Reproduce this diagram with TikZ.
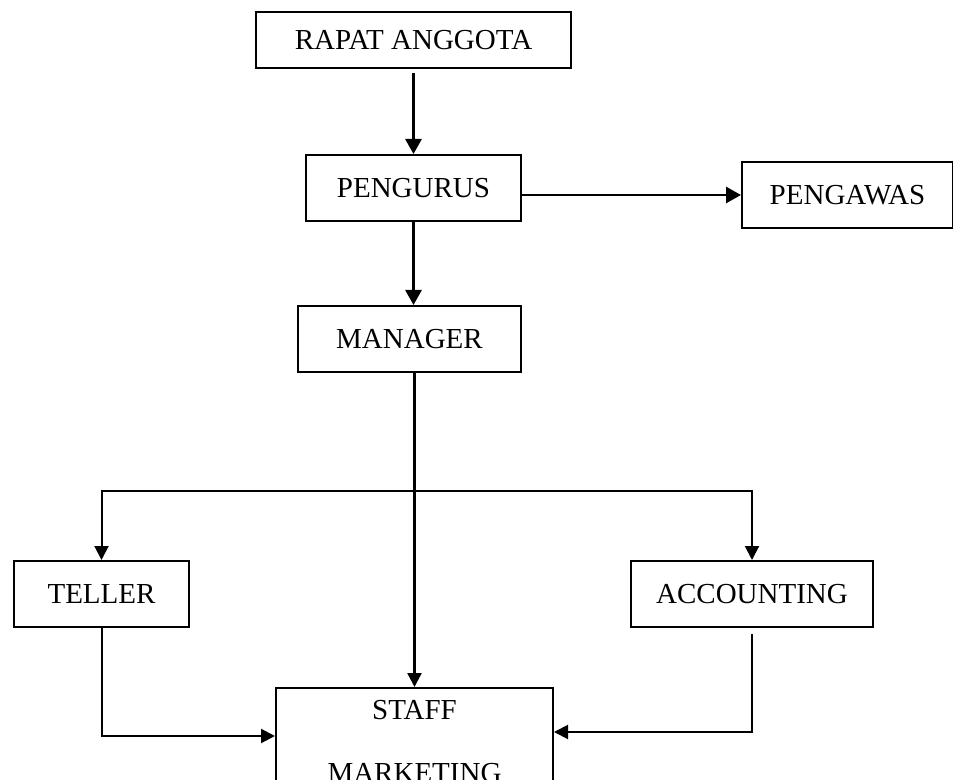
\documentclass[tikz,border=0pt]{standalone}
\usepackage{fontspec}
\setmainfont{Liberation Serif}
\usetikzlibrary{arrows.meta,positioning}

\begin{document}
\begin{tikzpicture}[
    x=0.5pt, y=-0.5pt,
    every node/.style={font=\fontsize{14.5}{17}\selectfont},
    box/.style={rectangle, draw, line width=1pt, minimum height=33pt, text centered, fill=white, inner sep=2pt},
    arrow/.style={-{Triangle[length=7.5pt,width=8pt]}, line width=1.4pt},
    thinarrow/.style={-{Triangle[length=7pt,width=7pt]}, line width=1pt}
]
\useasboundingbox (0,0) rectangle (953,780);
\clip (0,0) rectangle (953,780);

% Nodos
\node[box, minimum width=157.5pt, minimum height=28pt] (rapat) at (413.5,40) {RAPAT ANGGOTA};
\node[box, minimum width=107.5pt, below=42.5pt of rapat] (pengurus) {PENGURUS};
\node[box, minimum width=105.5pt, right=109.5pt of pengurus, yshift=-3.5pt] (pengawas) {PENGAWAS};
\node[box, minimum width=111.5pt, below=41.5pt of pengurus, xshift=-2pt] (manager) {MANAGER};
\node[box, minimum width=87.5pt] (teller) at (101.5,594) {TELLER};
\node[box, minimum width=121pt] (accounting) at (752,594) {ACCOUNTING};
\node[box, minimum width=138.5pt, minimum height=54pt, align=center, below=157pt of manager, xshift=2.5pt] (staff) {STAFF\\[14.5pt]MARKETING};
\coordinate (branch) at (414.5,491);

% Flechas
\draw[arrow, shorten <=2pt] (rapat) -- (pengurus);
\draw[arrow] (pengurus.east |- pengawas.west) -- (pengawas.west);
\draw[arrow] (pengurus.south) -- (pengurus.south |- manager.north);
\draw[thinarrow, line width=1.2pt] (manager.south -| staff.north) -- (staff.north);
\draw[thinarrow] (branch) -| (teller.north);
\draw[thinarrow] (branch) -| (accounting.north);
\draw[thinarrow] (teller.south) |- ([yshift=3pt]staff.west);
\draw[thinarrow, shorten <=3pt] (accounting.south) |- ([yshift=5pt]staff.east);

\end{tikzpicture}
\end{document}
